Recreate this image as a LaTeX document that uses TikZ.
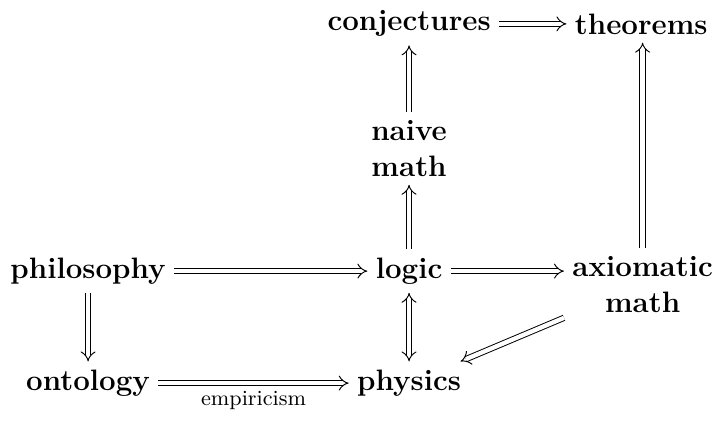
\documentclass[tikz,border=0pt]{standalone}
\usepackage{tikz}
\usetikzlibrary{positioning,arrows.meta}

\begin{document}
\begin{tikzpicture}[
    on grid,
    concept/.style={font=\fontsize{12.3}{15}\selectfont\bfseries, align=center},
    arrow/.style={-{Implies}, double, double distance=1.8pt, line width=0.4pt},
    biarrow/.style={arrow, {Implies}-{Implies}}
  ]
    \useasboundingbox (0,0) rectangle (10.47,-6.19);
    \node[concept] (phil) at (1.29,-3.97) {philosophy};
    \node[concept, right=4.70cm of phil] (logic) {logic};
    \node[concept, below=1.64cm of phil] (onto) {ontology};
    \node[concept, below=1.64cm of logic] (phys) {physics};
    \node[concept, above=1.80cm of logic] (naive) {naive\\math};
    \node[concept, above=3.62cm of logic] (conj) {conjectures};
    \node[concept, right=3.40cm of conj] (thm) {theorems};
    \node[concept, below right=0.20cm and 3.42cm of logic] (axm) {axiomatic\\math};
    \draw[arrow] (conj) -- (thm);
    \draw[arrow] (naive) -- (conj);
    \draw[arrow] (logic) -- (naive);
    \draw[arrow] (axm) -- (axm |- thm.south);
    \draw[arrow] (phil) -- (logic);
    \draw[arrow] (logic.east) -- (logic.east -| axm.west);
    \draw[arrow] (phil) -- (onto);
    \draw[biarrow] (logic) -- (phys);
    \draw[arrow] (onto) -- node[below, font=\small] {empiricism} (phys);
    \draw[arrow] (axm) -- (phys);
  \end{tikzpicture}
\end{document}
